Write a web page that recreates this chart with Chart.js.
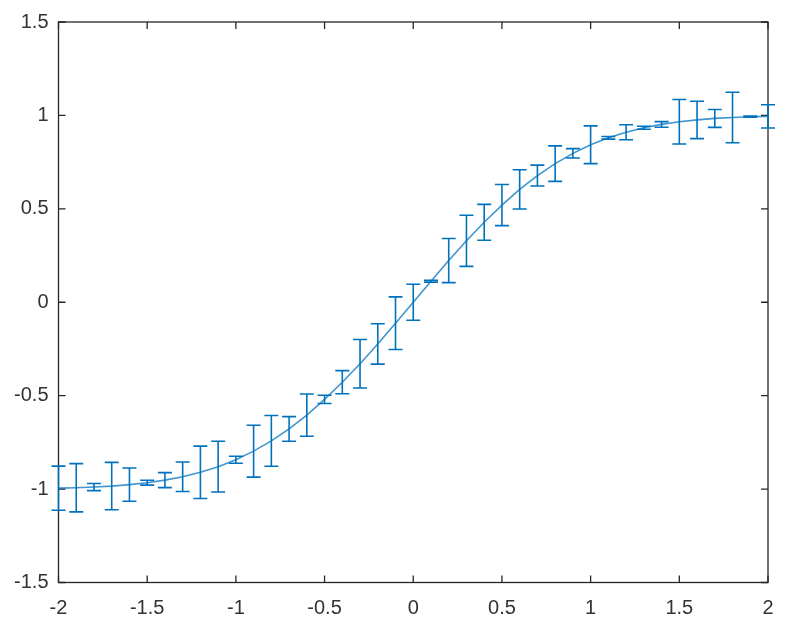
<!DOCTYPE html>
<html>
<head>
<meta charset="utf-8">
<script src="https://cdn.jsdelivr.net/npm/chart.js@4.4.0/dist/chart.umd.min.js"></script>
<style>
  html, body { margin: 0; padding: 0; background: #fff; }
  #wrap { width: 798px; height: 626px; }
</style>
</head>
<body>
<div id="wrap"><canvas id="chart" width="798" height="626"></canvas></div>
<script>
// sample positions
const xValues = [-2.0, -1.9, -1.8, -1.7, -1.6, -1.5, -1.4, -1.3, -1.2, -1.1, -1.0,
                 -0.9, -0.8, -0.7, -0.6, -0.5, -0.4, -0.3, -0.2, -0.1, 0.0,
                 0.1, 0.2, 0.3, 0.4, 0.5, 0.6, 0.7, 0.8, 0.9, 1.0,
                 1.1, 1.2, 1.3, 1.4, 1.5, 1.6, 1.7, 1.8, 1.9, 2.0];
// curve values
const yValues = [-0.995, -0.993, -0.989, -0.984, -0.976, -0.966, -0.952, -0.934, -0.910, -0.880, -0.843,
                 -0.797, -0.742, -0.678, -0.604, -0.520, -0.428, -0.329, -0.223, -0.112, 0.000,
                 0.112, 0.223, 0.329, 0.428, 0.520, 0.604, 0.678, 0.742, 0.797, 0.843,
                 0.880, 0.910, 0.934, 0.952, 0.966, 0.976, 0.984, 0.989, 0.993, 0.995];
// half-length of each error bar
const errValues = [0.118, 0.129, 0.019, 0.127, 0.089, 0.013, 0.040, 0.079, 0.140, 0.136, 0.019,
                   0.139, 0.136, 0.066, 0.113, 0.022, 0.062, 0.130, 0.108, 0.141, 0.096,
                   0.005, 0.118, 0.137, 0.096, 0.110, 0.105, 0.056, 0.095, 0.025, 0.101,
                   0.007, 0.040, 0.008, 0.015, 0.119, 0.100, 0.048, 0.135, 0.003, 0.062];
const xTicks = [-2, -1.5, -1, -0.5, 0, 0.5, 1, 1.5, 2];
const yTicks = [-1.5, -1, -0.5, 0, 0.5, 1, 1.5];

const blue = '#0072BD';
const axisColor = '#262626';

const points = xValues.map((x, i) => ({ x: x, y: yValues[i] }));

// matlab style box with inward ticks on all four sides
const boxPlugin = {
  id: 'box',
  beforeDatasetsDraw(chart) {
    const ctx = chart.ctx;
    const a = chart.chartArea;
    const xs = chart.scales.x, ys = chart.scales.y;
    const len = 7;
    ctx.save();
    ctx.strokeStyle = axisColor;
    ctx.lineWidth = 1.3;
    ctx.beginPath();
    xTicks.forEach(v => {
      const px = xs.getPixelForValue(v);
      ctx.moveTo(px, a.bottom); ctx.lineTo(px, a.bottom - len);
      ctx.moveTo(px, a.top); ctx.lineTo(px, a.top + len);
    });
    yTicks.forEach(v => {
      const py = ys.getPixelForValue(v);
      ctx.moveTo(a.left, py); ctx.lineTo(a.left + len, py);
      ctx.moveTo(a.right, py); ctx.lineTo(a.right - len, py);
    });
    ctx.stroke();
    ctx.strokeRect(a.left, a.top, a.right - a.left, a.bottom - a.top);
    ctx.restore();
  }
};

const errorBarPlugin = {
  id: 'errorBars',
  afterDatasetsDraw(chart) {
    const ctx = chart.ctx;
    const xs = chart.scales.x, ys = chart.scales.y;
    const cap = 7;
    ctx.save();
    ctx.strokeStyle = blue;
    ctx.lineWidth = 1.6;
    ctx.beginPath();
    xValues.forEach((x, i) => {
      const px = xs.getPixelForValue(x);
      const top = ys.getPixelForValue(yValues[i] + errValues[i]);
      const bot = ys.getPixelForValue(yValues[i] - errValues[i]);
      ctx.moveTo(px, top); ctx.lineTo(px, bot);
      ctx.moveTo(px - cap, top); ctx.lineTo(px + cap, top);
      ctx.moveTo(px - cap, bot); ctx.lineTo(px + cap, bot);
    });
    ctx.stroke();
    ctx.restore();
  }
};

function fmt(v) {
  return String(Math.round(v * 10) / 10);
}

new Chart(document.getElementById('chart'), {
  type: 'scatter',
  data: {
    datasets: [{
      data: points,
      showLine: true,
      borderColor: 'rgba(0, 114, 189, 0.75)',
      borderWidth: 1.6,
      pointRadius: 0,
      tension: 0,
      fill: false
    }]
  },
  options: {
    responsive: false,
    animation: false,
    devicePixelRatio: 1,
    layout: { padding: { top: 22, right: 30, left: 0, bottom: 0 } },
    plugins: {
      legend: { display: false },
      tooltip: { enabled: false }
    },
    scales: {
      x: {
        type: 'linear',
        min: -2,
        max: 2,
        afterFit: s => { s.height = 43.5; },
        afterBuildTicks: s => { s.ticks = xTicks.map(v => ({ value: v })); },
        grid: { display: false, drawTicks: false },
        border: { display: false },
        ticks: {
          padding: 14,
          color: '#333333',
          font: { family: 'Liberation Sans, Arial, sans-serif', size: 20 },
          maxRotation: 0,
          callback: v => fmt(v)
        }
      },
      y: {
        type: 'linear',
        min: -1.5,
        max: 1.5,
        afterFit: s => { s.width = 58.5; },
        afterBuildTicks: s => { s.ticks = yTicks.map(v => ({ value: v })); },
        grid: { display: false, drawTicks: false },
        border: { display: false },
        ticks: {
          padding: 10,
          color: '#333333',
          font: { family: 'Liberation Sans, Arial, sans-serif', size: 20 },
          callback: v => fmt(v)
        }
      }
    }
  },
  plugins: [boxPlugin, errorBarPlugin]
});
</script>
</body>
</html>
